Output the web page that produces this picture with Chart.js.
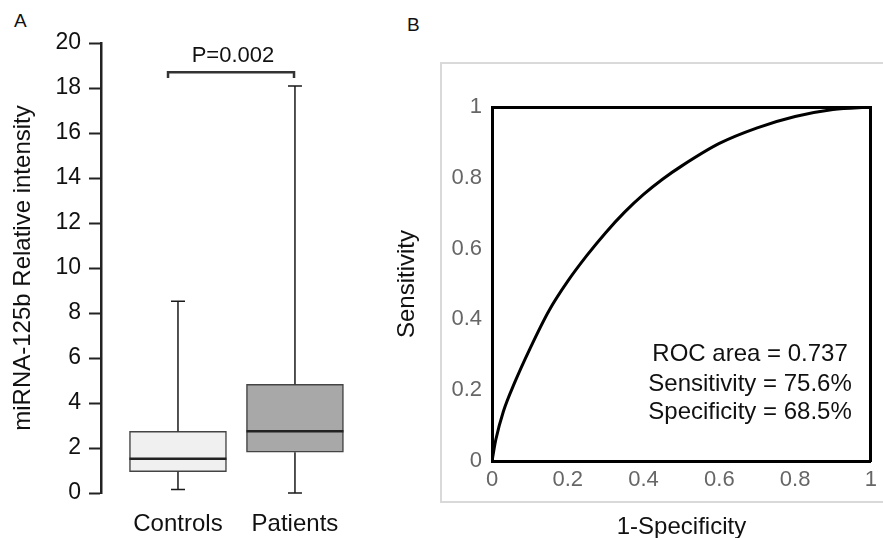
<!DOCTYPE html>
<html>
<head>
<meta charset="utf-8">
<script src="https://cdn.jsdelivr.net/npm/chart.js@4.4.1/dist/chart.umd.min.js"></script>
<style>
  body { margin: 0; width: 883px; height: 538px; overflow: hidden; position: relative; background: #fff;
         font-family: "Liberation Sans", Arial, sans-serif; }
  .panel-label { position: absolute; font-size: 19px; color: #111; line-height: 1; }
  #frameB { position: absolute; left: 440px; top: 62px; width: 460px; height: 437px; border: 2px solid #d9d9d9; }
  canvas { position: absolute; }
</style>
</head>
<body>
<div class="panel-label" style="left:14px;top:11px">A</div>
<div class="panel-label" style="left:407px;top:15px">B</div>
<div id="frameB"></div>
<canvas id="boxChart" width="360" height="538" style="left:0;top:0"></canvas>
<canvas id="rocChart" width="503" height="542" style="left:380px;top:0"></canvas>
<script>
// ---- Panel A data: miRNA-125b box plot ----
const groups = ['Controls', 'Patients'];
const whiskerLow = [0.16, 0.0];
const quartile1 = [0.95, 1.81];
const medians = [1.52, 2.74];
const quartile3 = [2.74, 4.83];
const whiskerHigh = [8.52, 18.09];
const boxTicks = [0, 2, 4, 6, 8, 10, 12, 14, 16, 18, 20];
const pValueText = 'P=0.002';

// ---- Panel B data: ROC curve ----
const rocFpr = [0, 0.01, 0.03, 0.06, 0.1, 0.15, 0.2, 0.25, 0.3, 0.35, 0.4, 0.45, 0.5, 0.6, 0.7, 0.8, 0.9, 1];
const rocTpr = [0, 0.06, 0.14, 0.222, 0.317, 0.424, 0.508, 0.58, 0.645, 0.703, 0.753, 0.796, 0.833, 0.897, 0.941, 0.973, 0.993, 1];
const rocTicks = [0, 0.2, 0.4, 0.6, 0.8, 1];
const rocNotes = ['ROC area = 0.737', 'Sensitivity = 75.6%', 'Specificity = 68.5%'];

Chart.defaults.font.family = '"Liberation Sans", Arial, sans-serif';

// whiskers, medians and the significance bracket
const boxWhiskerPlugin = {
    id: 'boxWhisker',
    afterDatasetsDraw(chart) {
        const { ctx, scales: { x, y } } = chart;
        const bars = chart.getDatasetMeta(0).data;
        ctx.save();
        groups.forEach((g, i) => {
            const cx = x.getPixelForValue(i + 1);
            ctx.strokeStyle = '#1a1a1a';
            ctx.lineWidth = 1.5;
            ctx.beginPath();
            ctx.moveTo(cx, y.getPixelForValue(quartile3[i]));
            ctx.lineTo(cx, y.getPixelForValue(whiskerHigh[i]));
            ctx.moveTo(cx, y.getPixelForValue(quartile1[i]));
            ctx.lineTo(cx, y.getPixelForValue(whiskerLow[i]));
            [whiskerHigh[i], whiskerLow[i]].forEach(v => {
                const py = y.getPixelForValue(v);
                ctx.moveTo(cx - 7, py);
                ctx.lineTo(cx + 7, py);
            });
            ctx.stroke();

            const half = bars[i].width / 2;
            const my = y.getPixelForValue(medians[i]);
            ctx.strokeStyle = '#222';
            ctx.lineWidth = 2.5;
            ctx.beginPath();
            ctx.moveTo(bars[i].x - half, my);
            ctx.lineTo(bars[i].x + half, my);
            ctx.stroke();
        });

        // bracket between the groups
        const x1 = x.getPixelForValue(0.915), x2 = x.getPixelForValue(1.992);
        const top = y.getPixelForValue(18.7), leg = y.getPixelForValue(18.45);
        ctx.strokeStyle = '#333';
        ctx.lineWidth = 2.5;
        ctx.beginPath();
        ctx.moveTo(x1, leg);
        ctx.lineTo(x1, top);
        ctx.lineTo(x2, top);
        ctx.lineTo(x2, leg);
        ctx.stroke();
        ctx.fillStyle = '#111';
        ctx.font = '22px "Liberation Sans", Arial, sans-serif';
        ctx.textAlign = 'center';
        ctx.textBaseline = 'middle';
        ctx.fillText(pValueText, x.getPixelForValue(1.47), y.getPixelForValue(19.42));
        ctx.restore();
    }
};

new Chart(document.getElementById('boxChart'), {
    type: 'bar',
    data: {
        datasets: [{
            data: groups.map((g, i) => ({ x: i + 1, y: [quartile1[i], quartile3[i]] })),
            backgroundColor: ['#f0f0f0', '#a8a8a8'],
            borderColor: '#444',
            borderWidth: 1.5,
            borderSkipped: false,
            barThickness: 97
        }]
    },
    options: {
        responsive: false,
        animation: false,
        devicePixelRatio: 1,
        layout: { padding: { top: 43, left: 0, right: 0, bottom: 0 } },
        plugins: { legend: { display: false }, tooltip: { enabled: false } },
        scales: {
            x: {
                type: 'linear', min: 0.342, max: 2.556, offset: false,
                afterBuildTicks: s => { s.ticks = groups.map((g, i) => ({ value: i + 1 })); },
                ticks: { callback: v => groups[v - 1], font: { size: 24 }, color: '#111', padding: 17, autoSkip: false, maxRotation: 0 },
                grid: { display: false, drawTicks: false },
                border: { display: false },
                afterFit: s => { s.height = 45; }
            },
            y: {
                min: 0, max: 20,
                afterBuildTicks: s => { s.ticks = boxTicks.map(v => ({ value: v })); },
                ticks: { font: { size: 23 }, color: '#111', padding: 8 },
                grid: { drawOnChartArea: false, tickLength: 12, tickColor: '#222', tickWidth: 2 },
                border: { color: '#222', width: 2.5 },
                title: { display: true, text: 'miRNA-125b Relative intensity', font: { size: 24 }, color: '#111', padding: { top: 9, bottom: 0 } },
                afterFit: s => { s.width = 101; }
            }
        }
    },
    plugins: [boxWhiskerPlugin]
});

// text block inside the ROC plot
const rocNotesPlugin = {
    id: 'rocNotes',
    afterDatasetsDraw(chart) {
        const { ctx, scales: { x, y } } = chart;
        const lines = [0.30, 0.217, 0.137];
        ctx.save();
        ctx.fillStyle = '#111';
        ctx.font = '24px "Liberation Sans", Arial, sans-serif';
        ctx.textAlign = 'center';
        ctx.textBaseline = 'middle';
        rocNotes.forEach((t, i) => ctx.fillText(t, x.getPixelForValue(0.681), y.getPixelForValue(lines[i])));
        ctx.restore();
    }
};

const frameAxis = (position, fit) => ({
    type: 'linear', position: position, min: 0, max: 1,
    ticks: { display: false },
    grid: { display: false, drawTicks: false },
    border: { color: '#000', width: 3 },
    afterFit: fit
});

new Chart(document.getElementById('rocChart'), {
    type: 'line',
    data: {
        datasets: [{
            data: rocFpr.map((v, i) => ({ x: v, y: rocTpr[i] })),
            borderColor: '#000',
            borderWidth: 3,
            pointRadius: 0,
            cubicInterpolationMode: 'monotone',
            fill: false
        }]
    },
    options: {
        responsive: false,
        animation: false,
        devicePixelRatio: 1,
        layout: { padding: 0 },
        plugins: { legend: { display: false }, tooltip: { enabled: false } },
        scales: {
            x: {
                type: 'linear', min: 0, max: 1, position: 'bottom',
                afterBuildTicks: s => { s.ticks = rocTicks.map(v => ({ value: v })); },
                ticks: { font: { size: 22 }, color: '#666', padding: 6, callback: v => String(Math.round(v * 10) / 10) },
                grid: { display: false, drawTicks: false },
                border: { color: '#000', width: 3 },
                title: { display: true, text: '1-Specificity', font: { size: 24 }, color: '#111', padding: { top: 0, bottom: 0 } },
                afterFit: s => { s.height = 81; }
            },
            y: {
                type: 'linear', min: 0, max: 1, position: 'left',
                afterBuildTicks: s => { s.ticks = rocTicks.map(v => ({ value: v })); },
                ticks: { font: { size: 22 }, color: '#666', padding: 10, callback: v => String(Math.round(v * 10) / 10) },
                grid: { display: false, drawTicks: false },
                border: { color: '#000', width: 3 },
                title: { display: true, text: 'Sensitivity', font: { size: 24 }, color: '#111', padding: { top: 13, bottom: 0 } },
                afterFit: s => { s.width = 112; }
            },
            xTop: frameAxis('top', s => { s.height = 107; }),
            yRight: frameAxis('right', s => { s.width = 5; })
        }
    },
    plugins: [rocNotesPlugin]
});
</script>
</body>
</html>
